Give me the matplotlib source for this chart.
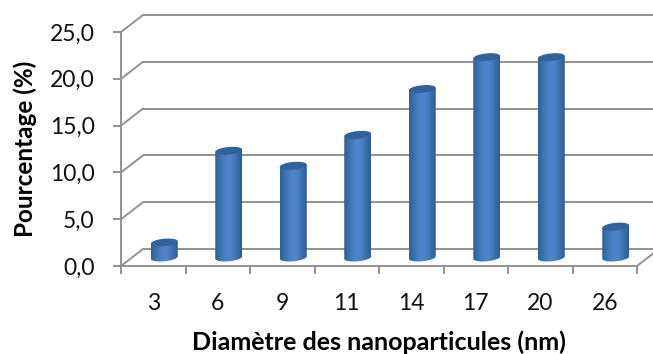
import numpy as np
import matplotlib
matplotlib.use("Agg")
import matplotlib.pyplot as plt
from matplotlib.colors import LinearSegmentedColormap
from matplotlib.patches import PathPatch
from matplotlib.path import Path
from matplotlib.transforms import Affine2D

categories = ["3", "6", "9", "11", "14", "17", "20", "26"]
values = [1.6, 11.4, 9.8, 13.1, 18.0, 21.4, 21.4, 3.3]
y_ticks = [0, 5, 10, 15, 20, 25]
y_tick_labels = ["0,0", "5,0", "10,0", "15,0", "20,0", "25,0"]
x_label = "Diamètre des nanoparticules (nm)"
y_label = "Pourcentage (%)"

W, H = 653, 354
plt.rcParams['font.family'] = ['Lato', 'DejaVu Sans']
fig = plt.figure(figsize=(W / 100, H / 100), dpi=100, facecolor='white')
L, R, T, B = 121, 637, 32, 266
ax = fig.add_axes([L / W, 1 - B / H, (R - L) / W, (B - T) / H])
ax.set_xlim(0, len(categories))
ax.set_ylim(0, 25)
ax.patch.set_alpha(0)
GRID = '#929292'
LW = 1.4
for s in ['top', 'right']:
    ax.spines[s].set_visible(False)
for s in ['left', 'bottom']:
    ax.spines[s].set_color(GRID)
    ax.spines[s].set_linewidth(LW)
    ax.spines[s].set_zorder(1)

DX, DY = 22, 17
back_tr = ax.transData + Affine2D().translate(DX, DY)
mid_tr = ax.transData + Affine2D().translate(11.0, 8.5)

# walls and floor
for v in y_ticks:
    ax.plot([0, len(categories) * 1.1], [v, v], color=GRID, lw=LW, transform=back_tr,
            clip_on=False, zorder=1, solid_capstyle='butt')
    x0, y0 = ax.transData.transform((0, v))
    ax.plot([x0, x0 + DX], [y0, y0 + DY], color=GRID, lw=LW, transform=None,
            clip_on=False, zorder=1)
x1, y1 = ax.transData.transform((len(categories), 0))
ax.plot([x1, x1 + DX], [y1, y1 + DY], color=GRID, lw=LW, transform=None, clip_on=False, zorder=1)

# cylinders
cmap_side = LinearSegmentedColormap.from_list(
    'side', ['#2f6097', '#3d73b3', '#4b83c6', '#4d85c8', '#3d72b0', '#2e5c94'])
px_x = (R - L) / len(categories)
px_y = (B - T) / 25
bar_w = 27 / px_x
ry = 3.8 / px_y
slope = 0.09 * px_x / px_y
grad = np.linspace(0, 1, 128).reshape(1, -1)
t = np.linspace(0, np.pi, 40)
for i, v in enumerate(values):
    cx = i + 0.5
    hw = bar_w / 2
    tilt = slope * hw
    xs = cx - hw * np.cos(t)
    ys = -ry * np.sin(t) + slope * (xs - cx)
    verts = list(zip(xs, ys)) + [(cx + hw, v + tilt), (cx - hw, v - tilt)]
    clip = Path(verts + [verts[0]])
    im = ax.imshow(grad, cmap=cmap_side, extent=[cx - hw, cx + hw, -ry - tilt, v + tilt],
                   aspect='auto', transform=mid_tr, zorder=3, interpolation='bilinear')
    im.set_clip_path(PathPatch(clip, transform=mid_tr))
    th = np.linspace(0, 2 * np.pi, 60)
    ex = cx + hw * np.cos(th)
    ey = v + ry * np.sin(th) + slope * (ex - cx)
    ax.fill(ex, ey, color='#31629b', transform=mid_tr, zorder=4, lw=0, clip_on=False)
ax.set_xlim(0, len(categories))
ax.set_ylim(0, 25)

# ticks and labels
ax.set_yticks(y_ticks)
ax.set_yticklabels(y_tick_labels, fontsize=16.5, color='#111111')
ax.set_xticks(np.arange(len(categories) + 1))
ax.set_xticklabels([''] * (len(categories) + 1))
ax.tick_params(axis='both', color=GRID, width=LW, length=5.8)
ax.tick_params(axis='y', pad=13)
for i, c in enumerate(categories):
    ax.annotate(c, (i + 0.5, 0), xytext=(0, -37), textcoords='offset pixels', ha='center',
                va='center', fontsize=16.5, color='#111111')
fig.text(378.5 / W, 1 - 342 / H, x_label, ha='center', va='center', fontsize=18, fontweight='bold')
fig.text(25 / W, 1 - 149 / H, y_label, ha='center', va='center', rotation=90, fontsize=17.5, fontweight='bold')
fig.savefig('out.png', dpi=100, facecolor='white')
